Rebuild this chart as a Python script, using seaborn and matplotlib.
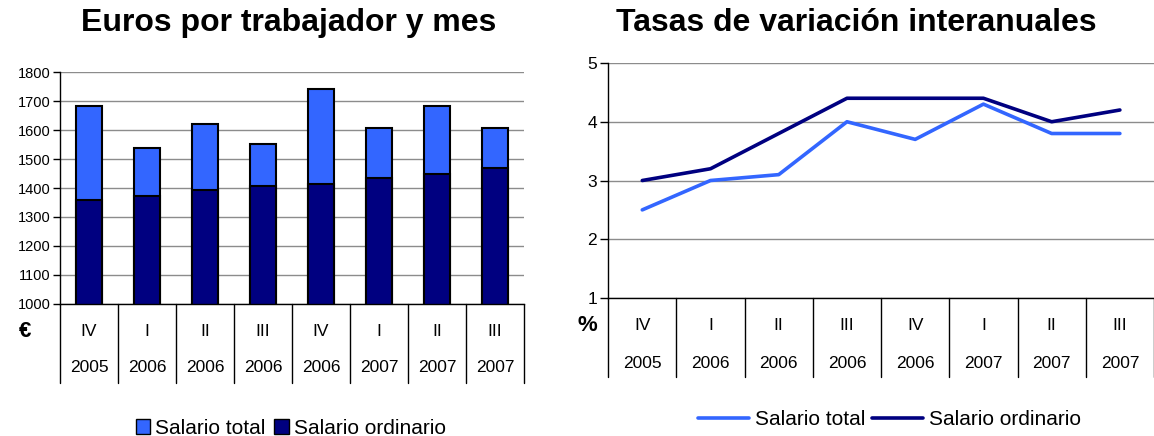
import numpy as np
import pandas as pd
import seaborn as sns
import matplotlib
matplotlib.use('Agg')
import matplotlib.pyplot as plt
from matplotlib.patches import Patch
from matplotlib.lines import Line2D

# data
quarters = ['IV', 'I', 'II', 'III', 'IV', 'I', 'II', 'III']
years = ['2005', '2006', '2006', '2006', '2006', '2007', '2007', '2007']
salario_total = [1682, 1537, 1620, 1551, 1743, 1606, 1682, 1606]
salario_ordinario = [1358, 1373, 1393, 1407, 1414, 1434, 1449, 1469]
tasa_total = [2.5, 3.0, 3.1, 4.0, 3.7, 4.3, 3.8, 3.8]
tasa_ordinario = [3.0, 3.2, 3.8, 4.4, 4.4, 4.4, 4.0, 4.2]

c_total = '#3366FF'
c_ord = '#000080'

sns.set_theme(style='white')
plt.rcParams['font.family'] = ['Liberation Sans', 'DejaVu Sans']
plt.rcParams['text.color'] = 'black'
plt.rcParams['axes.labelcolor'] = 'black'
plt.rcParams['ytick.color'] = 'black'

df = pd.DataFrame({'pos': np.arange(len(quarters)),
                   'total': salario_total, 'ordinario': salario_ordinario,
                   'tt': tasa_total, 'to': tasa_ordinario})

fig = plt.figure(figsize=(11.54, 4.36), dpi=100)
ax1 = fig.add_axes([0.052, 0.3028, 0.402, 0.532])
ax2 = fig.add_axes([0.527, 0.3165, 0.473, 0.539])


def table_axis(ax, depth, yq, yy, unit, ux, tick_size, tick_len):
    # category table under the x axis: quarter row, year row, separators
    n = len(quarters)
    ax.set_xlim(-0.5, n - 0.5)
    ax.set_xticks([])
    trans = ax.get_xaxis_transform()
    for i in range(n + 1):
        ax.plot([i - 0.5, i - 0.5], [0, -depth], color='black', lw=1,
                transform=trans, clip_on=False)
    for i in range(n):
        ax.text(i, yq, quarters[i], transform=trans, ha='center', va='center', fontsize=12.5)
        ax.text(i, yy, years[i], transform=trans, ha='center', va='center', fontsize=12.5)
    ax.text(ux, yq, unit, transform=ax.transAxes, ha='center', va='center',
            fontsize=16, fontweight='bold')
    for s in ['top', 'right']:
        ax.spines[s].set_visible(False)
    for s in ['left', 'bottom']:
        ax.spines[s].set_color('black')
        ax.spines[s].set_linewidth(1)
    ax.yaxis.grid(True, color='#8c8c8c', lw=1)
    ax.set_axisbelow(True)
    ax.tick_params(axis='y', left=True, length=tick_len, width=1, color='black',
                   labelsize=tick_size, pad=2)
    ax.set_xlabel('')
    ax.set_ylabel('')


# left: stacked bars
sns.barplot(data=df, x='pos', y='total', color=c_total, width=0.45,
            edgecolor='black', linewidth=1.5, saturation=1, ax=ax1, native_scale=True)
sns.barplot(data=df, x='pos', y='ordinario', color=c_ord, width=0.45,
            edgecolor='black', linewidth=1.5, saturation=1, ax=ax1, native_scale=True)
ax1.set_ylim(1000, 1800)
ax1.set_yticks(range(1000, 1801, 100))
table_axis(ax1, 0.34, -0.12, -0.276, '€', -0.075, 10.5, 5)

# right: lines
sns.lineplot(data=df, x='pos', y='tt', color=c_total, lw=2.6, ax=ax2)
sns.lineplot(data=df, x='pos', y='to', color=c_ord, lw=2.6, ax=ax2)
ax2.set_ylim(1, 5)
ax2.set_yticks([1, 2, 3, 4, 5])
table_axis(ax2, 0.338, -0.115, -0.278, '%', -0.038, 12.5, 6)

fig.text(0.25, 0.929, 'Euros por trabajador y mes', ha='center', va='baseline',
         fontsize=23, fontweight='bold')
fig.text(0.742, 0.929, 'Tasas de variación interanuales', ha='center', va='baseline',
         fontsize=23, fontweight='bold')

fig.legend(handles=[Patch(facecolor=c_total, edgecolor='black', label='Salario total'),
                    Patch(facecolor=c_ord, edgecolor='black', label='Salario ordinario')],
           loc='center', bbox_to_anchor=(0.252, 0.018), ncol=2, frameon=False,
           fontsize=15, handlelength=0.7, handleheight=0.7, handletextpad=0.25,
           columnspacing=0.4, borderpad=0)
fig.legend(handles=[Line2D([], [], color=c_total, lw=2.6, label='Salario total'),
                    Line2D([], [], color=c_ord, lw=2.6, label='Salario ordinario')],
           loc='center', bbox_to_anchor=(0.771, 0.037), ncol=2, frameon=False,
           fontsize=15, handlelength=2.45, handletextpad=0.3, columnspacing=0.3,
           borderpad=0)

fig.savefig('out.png', dpi=100)
